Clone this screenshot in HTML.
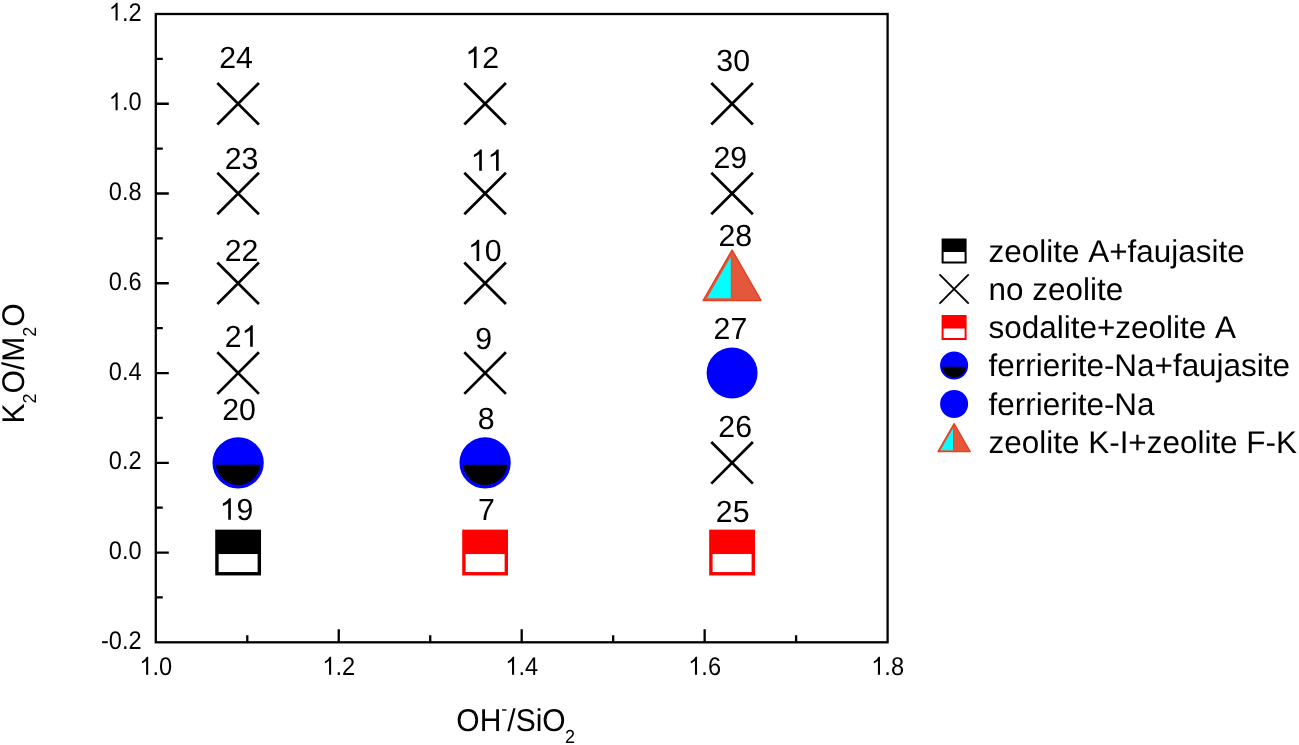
<!DOCTYPE html><html><head><meta charset="utf-8"><style>html,body{margin:0;padding:0;background:#fff;}svg{display:block;will-change:transform;}text{font-family:"Liberation Sans",sans-serif;font-kerning:none;text-rendering:geometricPrecision;}</style></head><body>
<svg width="1299" height="745" viewBox="0 0 1299 745">
<rect x="0" y="0" width="1299" height="745" fill="#fff"/>
<path d="M155.80,597.42H162.80M155.80,552.54H168.80M155.80,507.66H162.80M155.80,462.79H168.80M155.80,417.91H162.80M155.80,373.03H168.80M155.80,328.15H162.80M155.80,283.27H168.80M155.80,238.39H162.80M155.80,193.51H168.80M155.80,148.64H162.80M155.80,103.76H168.80M155.80,58.88H162.80M247.28,642.30V635.30M338.75,642.30V629.30M430.23,642.30V635.30M521.70,642.30V629.30M613.17,642.30V635.30M704.65,642.30V629.30M796.12,642.30V635.30" stroke="#000" stroke-width="2.3" fill="none"/>
<rect x="155.8" y="14.0" width="731.80" height="628.30" fill="none" stroke="#000" stroke-width="2.3"/>
<text transform="translate(100.98,648.90) scale(1,1.085)" font-size="23.6">-0.2</text>
<text transform="translate(108.84,559.14) scale(1,1.085)" font-size="23.6">0.0</text>
<text transform="translate(108.84,469.39) scale(1,1.085)" font-size="23.6">0.2</text>
<text transform="translate(108.84,379.63) scale(1,1.085)" font-size="23.6">0.4</text>
<text transform="translate(108.84,289.87) scale(1,1.085)" font-size="23.6">0.6</text>
<text transform="translate(108.84,200.11) scale(1,1.085)" font-size="23.6">0.8</text>
<text transform="translate(108.84,110.36) scale(1,1.085)" font-size="23.6"> .0</text><path transform="translate(108.84,110.36) scale(0.01152,-0.01220)" d="M763,0L583,0L583,1147Q518,1085 412,1023Q306,961 223,930L223,1104Q373,1175 485,1276Q597,1377 644,1466L763,1466Z"/>
<text transform="translate(108.84,20.60) scale(1,1.085)" font-size="23.6"> .2</text><path transform="translate(108.84,20.60) scale(0.01152,-0.01220)" d="M763,0L583,0L583,1147Q518,1085 412,1023Q306,961 223,930L223,1104Q373,1175 485,1276Q597,1377 644,1466L763,1466Z"/>
<text transform="translate(139.40,674.70) scale(1,1.085)" font-size="23.6"> .0</text><path transform="translate(139.40,674.70) scale(0.01152,-0.01220)" d="M763,0L583,0L583,1147Q518,1085 412,1023Q306,961 223,930L223,1104Q373,1175 485,1276Q597,1377 644,1466L763,1466Z"/>
<text transform="translate(322.35,674.70) scale(1,1.085)" font-size="23.6"> .2</text><path transform="translate(322.35,674.70) scale(0.01152,-0.01220)" d="M763,0L583,0L583,1147Q518,1085 412,1023Q306,961 223,930L223,1104Q373,1175 485,1276Q597,1377 644,1466L763,1466Z"/>
<text transform="translate(505.30,674.70) scale(1,1.085)" font-size="23.6"> .4</text><path transform="translate(505.30,674.70) scale(0.01152,-0.01220)" d="M763,0L583,0L583,1147Q518,1085 412,1023Q306,961 223,930L223,1104Q373,1175 485,1276Q597,1377 644,1466L763,1466Z"/>
<text transform="translate(688.25,674.70) scale(1,1.085)" font-size="23.6"> .6</text><path transform="translate(688.25,674.70) scale(0.01152,-0.01220)" d="M763,0L583,0L583,1147Q518,1085 412,1023Q306,961 223,930L223,1104Q373,1175 485,1276Q597,1377 644,1466L763,1466Z"/>
<text transform="translate(871.20,674.70) scale(1,1.085)" font-size="23.6"> .8</text><path transform="translate(871.20,674.70) scale(0.01152,-0.01220)" d="M763,0L583,0L583,1147Q518,1085 412,1023Q306,961 223,930L223,1104Q373,1175 485,1276Q597,1377 644,1466L763,1466Z"/>
<text transform="translate(219.18,67.90) scale(1,1.01)" font-size="30.3">24</text>
<text transform="translate(224.70,168.50) scale(1,1.01)" font-size="30.3">23</text>
<text transform="translate(224.66,261.04) scale(1,1.01)" font-size="30.3">22</text>
<text transform="translate(224.66,346.68) scale(1,1.01)" font-size="30.3">2 </text><path transform="translate(241.51,346.68) scale(0.01479,-0.01458)" d="M763,0L583,0L583,1147Q518,1085 412,1023Q306,961 223,930L223,1104Q373,1175 485,1276Q597,1377 644,1466L763,1466Z"/>
<text transform="translate(222.13,420.13) scale(1,1.01)" font-size="30.3">20</text>
<text transform="translate(219.59,519.63) scale(1,1.01)" font-size="30.3"> 9</text><path transform="translate(219.59,519.63) scale(0.01479,-0.01458)" d="M763,0L583,0L583,1147Q518,1085 412,1023Q306,961 223,930L223,1104Q373,1175 485,1276Q597,1377 644,1466L763,1466Z"/>
<text transform="translate(465.28,67.90) scale(1,1.01)" font-size="30.3"> 2</text><path transform="translate(465.28,67.90) scale(0.01479,-0.01458)" d="M763,0L583,0L583,1147Q518,1085 412,1023Q306,961 223,930L223,1104Q373,1175 485,1276Q597,1377 644,1466L763,1466Z"/>
<text transform="translate(470.56,170.79) scale(1,1.01)" font-size="30.3">  </text><path transform="translate(470.56,170.79) scale(0.01479,-0.01458)" d="M763,0L583,0L583,1147Q518,1085 412,1023Q306,961 223,930L223,1104Q373,1175 485,1276Q597,1377 644,1466L763,1466Z"/><path transform="translate(487.41,170.79) scale(0.01479,-0.01458)" d="M763,0L583,0L583,1147Q518,1085 412,1023Q306,961 223,930L223,1104Q373,1175 485,1276Q597,1377 644,1466L763,1466Z"/>
<text transform="translate(467.93,261.03) scale(1,1.01)" font-size="30.3"> 0</text><path transform="translate(467.93,261.03) scale(0.01479,-0.01458)" d="M763,0L583,0L583,1147Q518,1085 412,1023Q306,961 223,930L223,1104Q373,1175 485,1276Q597,1377 644,1466L763,1466Z"/>
<text transform="translate(475.37,348.80) scale(1,1.01)" font-size="30.3">9</text>
<text transform="translate(477.77,428.93) scale(1,1.01)" font-size="30.3">8</text>
<text transform="translate(478.10,519.52) scale(1,1.01)" font-size="30.3">7</text>
<text transform="translate(716.35,70.53) scale(1,1.01)" font-size="30.3">30</text>
<text transform="translate(713.38,168.43) scale(1,1.01)" font-size="30.3">29</text>
<text transform="translate(718.46,246.47) scale(1,1.01)" font-size="30.3">28</text>
<text transform="translate(713.53,338.68) scale(1,1.01)" font-size="30.3">27</text>
<text transform="translate(718.30,436.73) scale(1,1.01)" font-size="30.3">26</text>
<text transform="translate(715.87,522.23) scale(1,1.01)" font-size="30.3">25</text>
<path d="M217.33,82.96L258.93,124.56M217.33,124.56L258.93,82.96" stroke="#000" stroke-width="2.7" fill="none"/>
<path d="M217.33,172.71L258.93,214.31M217.33,214.31L258.93,172.71" stroke="#000" stroke-width="2.7" fill="none"/>
<path d="M217.33,262.47L258.93,304.07M217.33,304.07L258.93,262.47" stroke="#000" stroke-width="2.7" fill="none"/>
<path d="M217.33,352.23L258.93,393.83M217.33,393.83L258.93,352.23" stroke="#000" stroke-width="2.7" fill="none"/>
<path d="M464.31,82.96L505.91,124.56M464.31,124.56L505.91,82.96" stroke="#000" stroke-width="2.7" fill="none"/>
<path d="M464.31,172.71L505.91,214.31M464.31,214.31L505.91,172.71" stroke="#000" stroke-width="2.7" fill="none"/>
<path d="M464.31,262.47L505.91,304.07M464.31,304.07L505.91,262.47" stroke="#000" stroke-width="2.7" fill="none"/>
<path d="M464.31,352.23L505.91,393.83M464.31,393.83L505.91,352.23" stroke="#000" stroke-width="2.7" fill="none"/>
<path d="M711.29,82.96L752.89,124.56M711.29,124.56L752.89,82.96" stroke="#000" stroke-width="2.7" fill="none"/>
<path d="M711.29,172.71L752.89,214.31M711.29,214.31L752.89,172.71" stroke="#000" stroke-width="2.7" fill="none"/>
<path d="M711.29,441.99L752.89,483.59M711.29,483.59L752.89,441.99" stroke="#000" stroke-width="2.7" fill="none"/>
<circle cx="238.13" cy="462.79" r="23.85" fill="#0000ff" stroke="#0000ff" stroke-width="3.6"/><path d="M215.92,464.79H260.34A22.30,22.30 0 0 1 215.92,464.79Z" fill="#000"/>
<circle cx="485.11" cy="462.79" r="23.85" fill="#0000ff" stroke="#0000ff" stroke-width="3.6"/><path d="M462.90,464.79H507.32A22.30,22.30 0 0 1 462.90,464.79Z" fill="#000"/>
<rect x="216.93" y="531.34" width="42.40" height="42.40" fill="#fff" stroke="#000" stroke-width="3.4"/><rect x="216.93" y="531.34" width="42.40" height="22.70" fill="#000"/>
<rect x="463.91" y="531.34" width="42.40" height="42.40" fill="#fff" stroke="#ff0000" stroke-width="3.4"/><rect x="463.91" y="531.34" width="42.40" height="22.70" fill="#ff0000"/>
<rect x="710.89" y="531.34" width="42.40" height="42.40" fill="#fff" stroke="#ff0000" stroke-width="3.4"/><rect x="710.89" y="531.34" width="42.40" height="22.70" fill="#ff0000"/>
<circle cx="732.09" cy="373.03" r="25.50" fill="#0000ff"/>
<path d="M732.09,250.00L761.09,300.50L703.09,300.50Z" fill="#e5573b" stroke="#e2401f" stroke-width="1.4" stroke-linejoin="round"/><path d="M730.89,256.71L730.89,298.20L707.07,298.20Z" fill="#00ffff"/><path d="M731.49,256.71V298.20" stroke="#ff4422" stroke-width="1.20"/>
<text x="988.6" y="261.60" font-size="31.45">zeolite A+faujasite</text>
<text x="988.6" y="299.85" font-size="31.45">no zeolite</text>
<text x="988.6" y="338.10" font-size="31.45">sodalite+zeolite A</text>
<text x="988.6" y="376.35" font-size="31.45">ferrierite-Na+faujasite</text>
<text x="988.6" y="414.60" font-size="31.45">ferrierite-Na</text>
<text x="988.6" y="452.85" font-size="31.45">zeolite K-I+zeolite F-K</text>
<rect x="942.60" y="239.50" width="23.00" height="23.00" fill="#fff" stroke="#000" stroke-width="2.0"/><rect x="942.60" y="239.50" width="23.00" height="12.50" fill="#000"/>
<path d="M939.50,274.40L968.70,303.60M939.50,303.60L968.70,274.40" stroke="#000" stroke-width="1.9" fill="none"/>
<rect x="942.60" y="316.00" width="23.00" height="23.00" fill="#fff" stroke="#ff0000" stroke-width="2.0"/><rect x="942.60" y="316.00" width="23.00" height="12.50" fill="#ff0000"/>
<circle cx="954.10" cy="365.50" r="13.05" fill="#0000ff" stroke="#0000ff" stroke-width="2.0"/><path d="M942.06,366.70H966.14A12.10,12.10 0 0 1 942.06,366.70Z" fill="#000"/>
<circle cx="954.10" cy="404.00" r="14.00" fill="#0000ff"/>
<path d="M954.10,423.60L970.20,451.60L938.00,451.60Z" fill="#e5573b" stroke="#e2401f" stroke-width="1.3" stroke-linejoin="round"/><path d="M953.10,428.15L953.10,450.20L940.42,450.20Z" fill="#00ffff"/><path d="M953.60,428.15V450.20" stroke="#ff4422" stroke-width="1.00"/>
<text transform="translate(456.3,730.65) scale(1,1.05)" font-size="30">OH<tspan font-size="18" dy="-15.05">-</tspan><tspan dy="15.05">/SiO</tspan><tspan font-size="18" dx="-0.6" dy="11.65">2</tspan></text>
<text transform="translate(23.7,423.5) rotate(-90) scale(1,1.045)" font-size="30">K<tspan font-size="18" dy="12.1">2</tspan><tspan dy="-12.1">O/M</tspan><tspan font-size="18" dy="12.1">2</tspan><tspan dy="-12.1">O</tspan></text>
</svg></body></html>
